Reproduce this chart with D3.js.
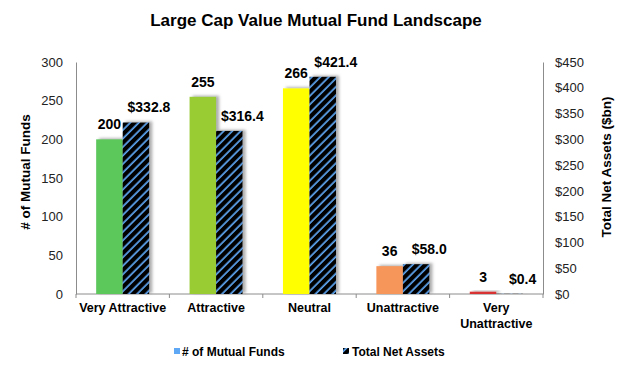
<!DOCTYPE html>
<html>
<head>
<meta charset="utf-8">
<script src="https://cdn.jsdelivr.net/npm/d3@7"></script>
<style>
  body { margin: 0; background: #fff; }
  text { font-family: "Liberation Sans", Arial, sans-serif; }
</style>
</head>
<body>
<svg id="chart"></svg>
<script>
// Chart data
const categories = ["Very Attractive", "Attractive", "Neutral", "Unattractive", "Very Unattractive"];
const fundCounts = [200, 255, 266, 36, 3];
const netAssets = [332.8, 316.4, 421.4, 58.0, 0.4];
const fundColors = ["#5cc85c", "#99cc33", "#ffff00", "#f7965a", "#d83030"];
const leftTicks = [0, 50, 100, 150, 200, 250, 300];
const rightTicks = [0, 50, 100, 150, 200, 250, 300, 350, 400, 450];

const width = 630;
const height = 369;
const margin = { top: 62, right: 87, bottom: 75, left: 76 };

const svg = d3.select("#chart")
    .attr("width", width)
    .attr("height", height);

const defs = svg.append("defs");

// diagonal hatch for the net assets bars
const pat = defs.append("pattern")
    .attr("id", "hatch")
    .attr("patternUnits", "userSpaceOnUse")
    .attr("width", 6)
    .attr("height", 6)
    .attr("patternTransform", "rotate(45)");
pat.append("rect").attr("width", 6).attr("height", 6).attr("fill", "#5fa8f5");
pat.append("rect").attr("x", 0).attr("width", 4.3).attr("height", 6).attr("fill", "#000");

const shadow = defs.append("filter")
    .attr("id", "shadow")
    .attr("x", "-30%").attr("y", "-30%")
    .attr("width", "160%").attr("height", "160%");
shadow.append("feDropShadow")
    .attr("dx", 3).attr("dy", -1)
    .attr("stdDeviation", 1.5)
    .attr("flood-color", "#777")
    .attr("flood-opacity", 0.6);

// Scales
const x0 = d3.scaleBand()
    .domain(categories)
    .range([margin.left, width - margin.right]);

const x1 = d3.scaleBand()
    .domain(["funds", "assets"])
    .range([0, x0.bandwidth()])
    .paddingInner(0)
    .paddingOuter(0.76);

const yLeft = d3.scaleLinear().domain([0, 300]).range([height - margin.bottom, margin.top]);
const yRight = d3.scaleLinear().domain([0, 450]).range([height - margin.bottom, margin.top]);

// Title
svg.append("text")
    .attr("x", 316)
    .attr("y", 26)
    .attr("text-anchor", "middle")
    .style("font-size", "17px")
    .style("font-weight", "bold")
    .text("Large Cap Value Mutual Fund Landscape");

// Axes
const leftAxis = svg.append("g")
    .attr("transform", `translate(${margin.left},0)`)
    .call(d3.axisLeft(yLeft).tickValues(leftTicks).tickSize(0).tickPadding(13));

const rightAxis = svg.append("g")
    .attr("transform", `translate(${width - margin.right},0)`)
    .call(d3.axisRight(yRight).tickValues(rightTicks).tickSize(0).tickPadding(12)
        .tickFormat(d => "$" + d));

[leftAxis, rightAxis].forEach(g => {
    g.select(".domain").attr("stroke", "#8c8c8c");
    g.selectAll("text").style("font-size", "13px").attr("fill", "#222");
});

const bottom = svg.append("g")
    .attr("transform", `translate(0,${height - margin.bottom})`)
    .call(d3.axisBottom(x0).tickSize(0).tickPadding(9));
bottom.select(".domain").remove();
bottom.append("line")
    .attr("x1", margin.left).attr("x2", width - margin.right)
    .attr("stroke", "#8c8c8c");
bottom.selectAll(".sep")
    .data(categories.map(c => x0(c)).concat([x0.range()[1]]))
    .join("line")
    .attr("class", "sep")
    .attr("x1", d => d).attr("x2", d => d)
    .attr("y1", 0).attr("y2", 4)
    .attr("stroke", "#8c8c8c");

bottom.selectAll(".tick text")
    .style("font-size", "12.5px")
    .style("font-weight", "bold")
    .attr("fill", "#000")
    .each(function () {
        // wrap long category names onto two lines
        const t = d3.select(this);
        if (this.getComputedTextLength() > x0.bandwidth()) {
            const words = t.text().split(" ");
            t.text(null);
            words.forEach((w, i) => {
                t.append("tspan")
                    .attr("x", 0)
                    .attr("dy", i === 0 ? "0.71em" : "1.25em")
                    .text(w);
            });
            t.attr("dy", null);
        }
    });

// Bars
const groups = svg.append("g")
    .selectAll("g")
    .data(categories)
    .join("g")
    .attr("transform", d => `translate(${x0(d)},0)`);

groups.append("rect")
    .attr("x", x1("funds"))
    .attr("y", (d, i) => yLeft(fundCounts[i]))
    .attr("width", x1.bandwidth())
    .attr("height", (d, i) => yLeft(0) - yLeft(fundCounts[i]))
    .attr("fill", (d, i) => fundColors[i])
    .attr("filter", "url(#shadow)");

groups.append("rect")
    .attr("x", x1("assets"))
    .attr("y", (d, i) => yRight(netAssets[i]))
    .attr("width", x1.bandwidth())
    .attr("height", (d, i) => yRight(0) - yRight(netAssets[i]))
    .attr("fill", "url(#hatch)")
    .attr("filter", "url(#shadow)");

// Value labels
groups.append("text")
    .attr("x", x1("funds") + x1.bandwidth() / 2)
    .attr("y", (d, i) => yLeft(fundCounts[i]) - 10)
    .attr("text-anchor", "middle")
    .style("font-size", "14px")
    .style("font-weight", "bold")
    .text((d, i) => fundCounts[i]);

groups.append("text")
    .attr("x", x1("assets") + x1.bandwidth() / 2 + 13)
    .attr("y", (d, i) => yRight(netAssets[i]) - 10)
    .attr("text-anchor", "middle")
    .style("font-size", "14px")
    .style("font-weight", "bold")
    .text((d, i) => "$" + netAssets[i].toFixed(1));

// Axis titles
svg.append("text")
    .attr("transform", "translate(30,172) rotate(-90)")
    .attr("text-anchor", "middle")
    .style("font-size", "13.5px")
    .style("font-weight", "bold")
    .text("# of Mutual Funds");

svg.append("text")
    .attr("transform", "translate(611,167) rotate(-90)")
    .attr("text-anchor", "middle")
    .style("font-size", "13.5px")
    .style("font-weight", "bold")
    .text("Total Net Assets ($bn)");

// Legend
const legend = svg.append("g").attr("transform", "translate(174,352)");
legend.append("rect")
    .attr("x", 0).attr("y", -4).attr("width", 6).attr("height", 6)
    .attr("fill", "#5fa8f5");
legend.append("text")
    .attr("x", 8).attr("y", 0).attr("dy", "0.35em")
    .style("font-size", "12px").style("font-weight", "bold")
    .text("# of Mutual Funds");
legend.append("rect")
    .attr("x", 169).attr("y", -4).attr("width", 6).attr("height", 6)
    .attr("fill", "url(#hatch)");
legend.append("text")
    .attr("x", 178).attr("y", 0).attr("dy", "0.35em")
    .style("font-size", "12px").style("font-weight", "bold")
    .text("Total Net Assets");
</script>
</body>
</html>
